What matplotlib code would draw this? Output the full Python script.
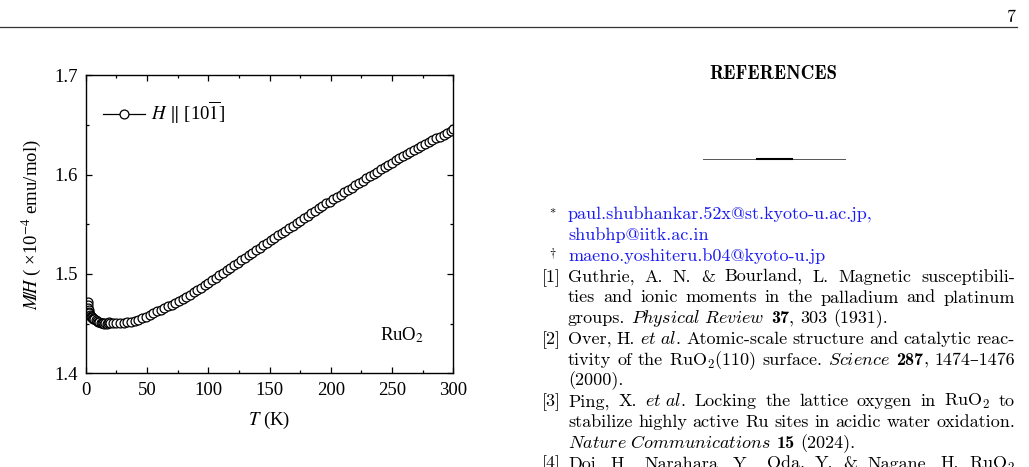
import re
import matplotlib
matplotlib.use('Agg')
import matplotlib.pyplot as plt
from matplotlib.lines import Line2D
from matplotlib.ticker import MultipleLocator

# M/H vs T for RuO2, H || [10-1]
temp = [1.8, 2.0, 2.2, 2.5, 2.8, 3.0, 3.5, 4.0, 4.5, 5.0, 5.5, 6.0, 7.0, 8.0,
        9.0, 10.0, 11.0, 12.0, 13.0, 14.0, 15.0, 16.0, 17.0, 18.0, 19.0, 20.0,
        22, 25, 28, 31, 34, 37, 40, 43, 46, 49, 52, 55, 58, 61, 64, 67, 70,
        73, 76, 79, 82, 85, 88, 91, 94, 97, 100, 103, 106, 109, 112, 115,
        118, 121, 124, 127, 130, 133, 136, 139, 142, 145, 148, 151, 154, 157,
        160, 163, 166, 169, 172, 175, 178, 181, 184, 187, 190, 193, 196, 199,
        202, 205, 208, 211, 214, 217, 220, 223, 226, 229, 232, 235, 238, 241,
        244, 247, 250, 253, 256, 259, 262, 265, 268, 271, 274, 277, 280, 283,
        286, 289, 292, 295, 298, 300]
mh = [1.472, 1.469, 1.466, 1.464, 1.462, 1.461, 1.459, 1.458, 1.457, 1.457,
      1.456, 1.455, 1.455, 1.454, 1.453, 1.452, 1.452, 1.451, 1.451, 1.451,
      1.450, 1.451, 1.450, 1.451, 1.452, 1.451,
      1.451, 1.451, 1.451, 1.451, 1.452, 1.452, 1.453, 1.454, 1.456, 1.457,
      1.459, 1.461, 1.463, 1.464, 1.466, 1.468, 1.469, 1.471, 1.473, 1.475,
      1.477, 1.479, 1.482, 1.484, 1.486, 1.489, 1.491, 1.494, 1.496, 1.499,
      1.501, 1.504, 1.506, 1.509, 1.511, 1.514, 1.516, 1.519, 1.521, 1.524,
      1.526, 1.529, 1.531, 1.534, 1.536, 1.539, 1.541, 1.543, 1.546, 1.548,
      1.551, 1.553, 1.556, 1.558, 1.561, 1.563, 1.566, 1.568, 1.571, 1.573,
      1.576, 1.578, 1.580, 1.583, 1.585, 1.587, 1.590, 1.592, 1.594, 1.597,
      1.599, 1.601, 1.603, 1.606, 1.608, 1.610, 1.612, 1.615, 1.617, 1.619,
      1.621, 1.623, 1.625, 1.627, 1.629, 1.631, 1.633, 1.635, 1.637, 1.638,
      1.640, 1.642, 1.644, 1.646]

x_ticks = [0, 50, 100, 150, 200, 250, 300]
y_ticks = [1.4, 1.5, 1.6, 1.7]

# reference list on the right half of the page (**x** = bold)
ref_lines = [
    "paul.shubhankar.52x@st.kyoto-u.ac.jp,",
    "shubhp@iitk.ac.in",
    "maeno.yoshiteru.b04@kyoto-u.jp",
    "Guthrie, A. N. & Bourland, L. Magnetic susceptibili-",
    "ties and ionic moments in the palladium and platinum",
    r"groups. $\mathit{Physical\ Review}$ **37**, 303 (1931).",
    r"Over, H. $\mathit{et\ al.}$ Atomic-scale structure and catalytic reac-",
    r"tivity of the RuO$_2$(110) surface. $\mathit{Science}$ **287**, 1474–1476",
    "(2000).",
    r"Ping, X. $\mathit{et\ al.}$ Locking the lattice oxygen in RuO$_2$ to",
    "stabilize highly active Ru sites in acidic water oxidation.",
    r"$\mathit{Nature\ Communications}$ **15** (2024).",
    r"Doi, H., Narahara, Y., Oda, Y. & Nagane, H. RuO$_2$",
]
ref_justify = [False, False, False, True, True, False, True, True, False,
               True, True, False, True]
ref_marks = {0: r"$^{*}$", 2: r"$^{\dagger}$", 3: "[1]", 6: "[2]", 9: "[3]", 12: "[4]"}

W, H = 1029, 467
plt.rcParams['mathtext.fontset'] = 'stix'
plt.rcParams['font.family'] = ['Liberation Serif']

fig = plt.figure(figsize=(W / 100, H / 100), dpi=100)


def fx(x):
    return x / W


def fy(y):
    return 1 - y / H


# ---- the plot ----
ax = fig.add_axes([fx(85.8), fy(373.3), (453.3 - 85.8) / W, (373.3 - 75.4) / H])
ax.plot(temp, mh, '-', color='black', lw=0.9, marker='o', ms=6.4,
        mfc='white', mec='black', mew=0.9, label=r'$H$ $\|$ [10$\overline{1}$]')
ax.set_xlim(0, 300)
ax.set_ylim(1.4, 1.7)
ax.set_xticks(x_ticks)
ax.set_yticks(y_ticks)
ax.xaxis.set_minor_locator(MultipleLocator(25))
ax.yaxis.set_minor_locator(MultipleLocator(0.05))
ax.tick_params(which='both', direction='in', top=True, right=True, width=0.9,
               labelsize=13.5, pad=6)
ax.tick_params(which='major', length=4.5)
ax.tick_params(which='minor', length=2.5)
for s in ax.spines.values():
    s.set_linewidth(1.0)
ax.set_xlabel(r'$T$ (K)', fontsize=13.5, labelpad=8)
ax.set_ylabel(r'$M\!/\!H$ ( ×10$^{-4}$ emu/mol)', fontsize=13.5, labelpad=8)
ax.text(276, 1.4335, r'RuO$_2$', ha='right', va='baseline', fontsize=13.5)
ax.legend(loc='center left', bbox_to_anchor=(0.047, 0.874), frameon=False,
          fontsize=13.5, handlelength=2.25, handletextpad=0.3, borderpad=0,
          borderaxespad=0)

# ---- page decorations ----
fig.add_artist(Line2D([0, fx(1017)], [fy(27.3), fy(27.3)], transform=fig.transFigure,
                      color='#333333', lw=0.9))
fig.text(fx(1016), fy(21.7), '7', ha='right', va='baseline', fontsize=13,
         family=['cmr10', 'DejaVu Serif'])
fig.text(fx(773), fy(79), 'REFERENCES', ha='center', va='baseline', fontsize=13.5,
         family=['cmb10', 'DejaVu Serif'])
fig.add_artist(Line2D([fx(703), fx(845)], [fy(159.3), fy(159.3)], transform=fig.transFigure,
                      color='#555555', lw=0.7))
fig.add_artist(Line2D([fx(757), fx(792)], [fy(159.3), fy(159.3)], transform=fig.transFigure,
                      color='black', lw=1.5))

fs = 13
reg_font = dict(fontsize=fs, family=['cmr10', 'DejaVu Serif'], math_fontfamily='cm')
bold_font = dict(fontsize=fs, family=['cmb10', 'DejaVu Serif'], math_fontfamily='cm')
x0, x1 = 568, 1015
base0, step = 219.5, 20.75
renderer = fig.canvas.get_renderer()


def split_words(line):
    # split on spaces that are not inside $...$
    words, cur, inmath = [], '', False
    for ch in line:
        if ch == '$':
            inmath = not inmath
        if ch == ' ' and not inmath:
            if cur:
                words.append(cur)
            cur = ''
        else:
            cur += ch
    if cur:
        words.append(cur)
    return words


def put_word(word, x, yb, color):
    # draw one word (bold parts in cmb10), return its pixel width
    pieces = re.split(r'(\*\*.+?\*\*)', word)
    xx = x
    for p in pieces:
        if not p:
            continue
        if p.startswith('**'):
            t = fig.text(fx(xx), yb, p[2:-2], ha='left', va='baseline', color=color, **bold_font)
        else:
            t = fig.text(fx(xx), yb, p, ha='left', va='baseline', color=color, **reg_font)
        xx += t.get_window_extent(renderer).width
    return xx - x


def text_width(s):
    t = fig.text(0, 0, s, **reg_font)
    w = t.get_window_extent(renderer).width
    t.remove()
    return w


space_w = text_width('a b') - text_width('ab')

for i, line in enumerate(ref_lines):
    yb = fy(base0 + i * step)
    color = (0.1, 0.1, 0.95) if i < 3 else 'black'
    words = split_words(line)
    # first pass: measure
    widths = []
    for w in words:
        tmp = [a for a in fig.texts]
        wd = put_word(w, 0, yb, color)
        for a in fig.texts[len(tmp):]:
            a.remove()
        widths.append(wd)
    if ref_justify[i] and len(words) > 1:
        gap = (x1 - x0 - sum(widths)) / (len(words) - 1)
    else:
        gap = space_w
    xx = x0
    for w, wd in zip(words, widths):
        put_word(w, xx, yb, color)
        xx += wd + gap
    if i in ref_marks:
        m = ref_marks[i]
        if m.startswith('['):
            fig.text(fx(561), yb, m, ha='right', va='baseline', **reg_font)
        else:
            fig.text(fx(557), yb, m, ha='right', va='baseline', fontsize=fs,
                     math_fontfamily='cm')

fig.savefig('out.png', dpi=100)
